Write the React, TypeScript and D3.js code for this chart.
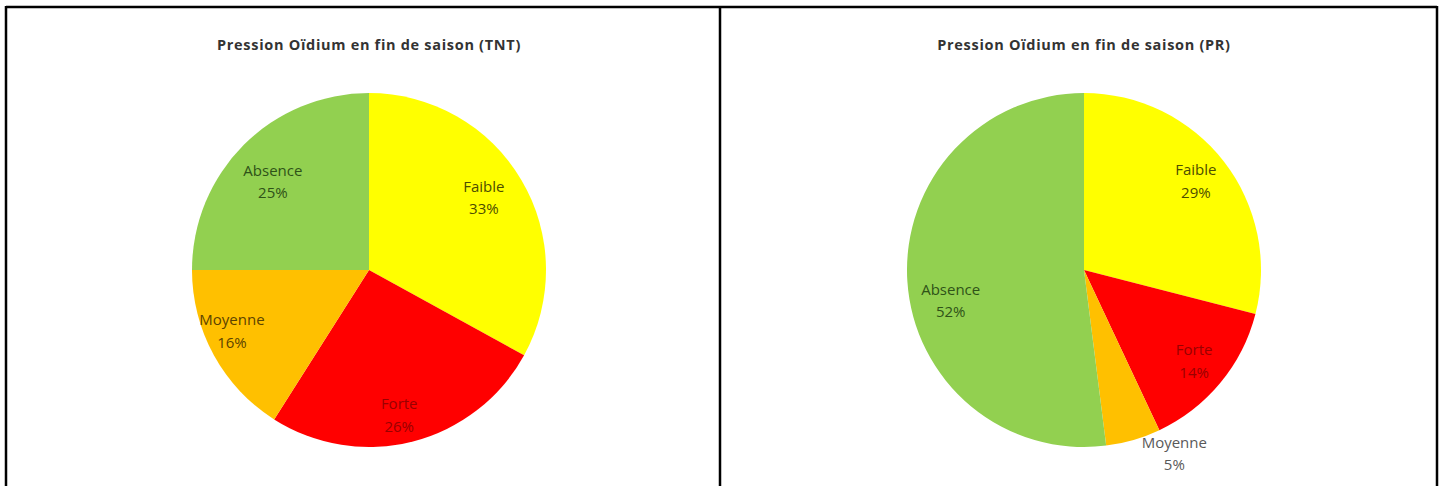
import React from "react";
import * as d3 from "d3";

const categories = ["Faible", "Forte", "Moyenne", "Absence"];
const tntValues = [33, 26, 16, 25];
const prValues = [29, 14, 5, 52];
const titles = ["Pression Oïdium en fin de saison (TNT)", "Pression Oïdium en fin de saison (PR)"];

const fills: Record<string, string> = {
  Faible: "#FFFF00",
  Forte: "#FF0000",
  Moyenne: "#FFC000",
  Absence: "#92D050",
};
const labelColors: Record<string, string> = {
  Faible: "#4d4d00",
  Forte: "#990000",
  Moyenne: "#5c4300",
  Absence: "#2f5218",
};

// label nudges (best-fit placement like the spreadsheet tool)
const tntNudge: Record<string, [number, number]> = {
  Faible: [-7, 0],
  Forte: [-5, 8],
  Moyenne: [-13, -7],
  Absence: [4, 12],
};
const prNudge: Record<string, [number, number]> = {
  Faible: [0, -2],
  Forte: [1, 1],
  Moyenne: [0, 0],
  Absence: [8, 22],
};

const W = 1446;
const H = 486;
const R = 177;
const FONT = "'Open Sans', 'Noto Sans', sans-serif";

type D = { c: string; v: number };
type PanelProps = {
  cx: number;
  cy: number;
  values: number[];
  title: string;
  nudge: Record<string, [number, number]>;
  outsideSmall?: boolean;
};

function PiePanel({ cx, cy, values, title, nudge, outsideSmall }: PanelProps) {
  const data: D[] = categories.map((c, i) => ({ c, v: values[i] }));
  const pie = d3.pie<D>().value((d) => d.v).sort(null);
  const arcs = pie(data);
  const arc = d3.arc<d3.PieArcDatum<D>>().innerRadius(0).outerRadius(R);
  const labelArc = d3.arc<d3.PieArcDatum<D>>().innerRadius(R * 0.8).outerRadius(R * 0.8);
  const outerArc = d3.arc<d3.PieArcDatum<D>>().innerRadius(R * 1.1).outerRadius(R * 1.1);
  return (
    <g>
      <text
        x={cx}
        y={50}
        textAnchor="middle"
        fontFamily={FONT}
        fontWeight="bold"
        fontSize={14.5}
        letterSpacing={0.7}
        fill="#333333"
      >
        {title}
      </text>
      <g transform={`translate(${cx},${cy})`}>
        {arcs.map((a) => (
          <path key={a.data.c} d={arc(a) || ""} fill={fills[a.data.c]} />
        ))}
        {arcs.map((a) => {
          const small = outsideSmall && a.data.v < 8;
          let [lx, ly] = small ? outerArc.centroid(a) : labelArc.centroid(a);
          if (small) {
            lx += 36;
            ly -= 3;
          }
          const [nx, ny] = nudge[a.data.c] || [0, 0];
          lx += nx;
          ly += ny;
          return (
            <text
              key={a.data.c + "l"}
              x={lx}
              y={ly}
              textAnchor="middle"
              fontFamily={FONT}
              fontSize={15}
              fill={small ? "#595959" : labelColors[a.data.c]}
            >
              <tspan x={lx} dy="-0.4em">{a.data.c}</tspan>
              <tspan x={lx} dy="1.5em">{a.data.v + "%"}</tspan>
            </text>
          );
        })}
      </g>
    </g>
  );
}

export default function App() {
  return (
    <svg width={W} height={H} style={{ position: "absolute", left: 0, top: 0, background: "#fff" }}>
      <rect x={0} y={0} width={W} height={H} fill="#fff" />
      <PiePanel cx={369} cy={270} values={tntValues} title={titles[0]} nudge={tntNudge} />
      <PiePanel cx={1084} cy={270} values={prValues} title={titles[1]} nudge={prNudge} outsideSmall />
      <g stroke="#000" strokeWidth={2.5}>
        <line x1={6} y1={7} x2={1437} y2={7} />
        <line x1={6} y1={6} x2={6} y2={H} />
        <line x1={720} y1={6} x2={720} y2={H} />
        <line x1={1437} y1={6} x2={1437} y2={H} />
      </g>
    </svg>
  );
}
